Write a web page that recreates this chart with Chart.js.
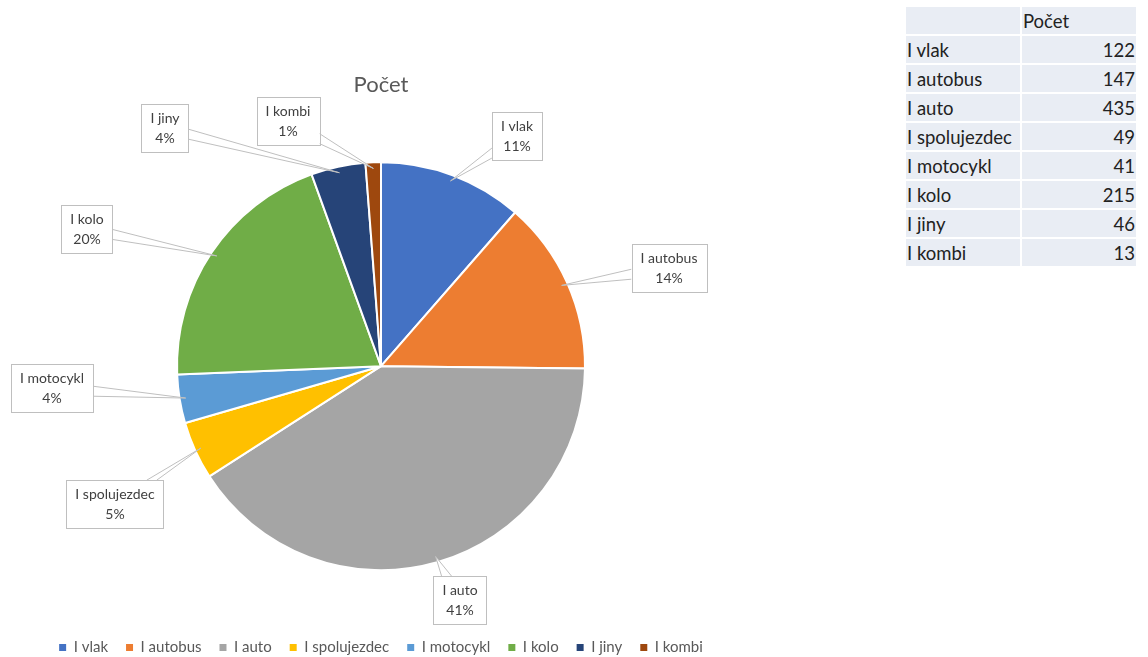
<!DOCTYPE html>
<html lang="cs">
<head>
  <meta charset="UTF-8">
  <title>Počet</title>
  <script src="https://cdn.jsdelivr.net/npm/chart.js"></script>
  <style>
    body { margin: 0; background: #fff; font-family: Lato, sans-serif; overflow: hidden; }
    #wrap { position: absolute; left: 0; top: 0; width: 762px; height: 667px; }
    table { position: absolute; left: 904px; top: 5px; border-collapse: collapse; font-size: 18.5px; color: #222; }
    td { background: #e9edf4; border: 2px solid #fff; height: 27px; padding: 0 1px; }
    td.n { text-align: right; }
  </style>
</head>
<body>
  <div id="wrap"><canvas id="graf"></canvas></div>
  <table id="tab"></table>

  <script>
    const kategorie = ['I vlak', 'I autobus', 'I auto', 'I spolujezdec', 'I motocykl', 'I kolo', 'I jiny', 'I kombi'];
    const pocet = [122, 147, 435, 49, 41, 215, 46, 13];
    const barvy = ['#4472C4', '#ED7D31', '#A5A5A5', '#FFC000', '#5B9BD5', '#70AD47', '#264478', '#9E480E'];

    // tabulka vpravo
    const tab = document.getElementById('tab');
    tab.innerHTML = '<tr><td style="width:112px"></td><td style="width:112px">Počet</td></tr>' +
      kategorie.map((k, i) => '<tr><td>' + k + '</td><td class="n">' + pocet[i] + '</td></tr>').join('');

    // umisteni popisku (posun stredu rameckem od stredu kolace)
    const posunPopisku = [[136, -230], [288, -98], [79, 234], [-266, 138], [-329, 22], [-294, -137], [-216, -238], [-93, -245]];

    const popisky = {
      id: 'popisky',
      afterDatasetsDraw(chart) {
        const ctx = chart.ctx;
        const meta = chart.getDatasetMeta(0);
        const total = pocet.reduce((a, b) => a + b, 0);
        ctx.save();
        ctx.font = '14px Lato';
        meta.data.forEach((arc, i) => {
          const mid = (arc.startAngle + arc.endAngle) / 2;
          const ax = arc.x + Math.cos(mid) * arc.outerRadius * 0.97;
          const ay = arc.y + Math.sin(mid) * arc.outerRadius * 0.97;
          const t1 = kategorie[i];
          const t2 = Math.round(pocet[i] / total * 100) + '%';
          const w = Math.max(ctx.measureText(t1).width, ctx.measureText(t2).width) + 18;
          const h = 48;
          const cx = arc.x + posunPopisku[i][0];
          const cy = arc.y + posunPopisku[i][1];
          const l = cx - w / 2, t = cy - h / 2, r = cx + w / 2, b = cy + h / 2;
          // bod na okraji ramecku smerem k vysece
          const dx = ax - cx, dy = ay - cy;
          let p1, p2;
          if (Math.abs(dx) * h > Math.abs(dy) * w) {
            const ex = dx > 0 ? r : l;
            let ey = cy + dy * (w / 2) / Math.abs(dx);
            ey = Math.min(Math.max(ey, t + 6), b - 6);
            p1 = [ex, ey - 5]; p2 = [ex, ey + 5];
          } else {
            const ey = dy > 0 ? b : t;
            let ex = cx + dx * (h / 2) / Math.abs(dy);
            ex = Math.min(Math.max(ex, l + 6), r - 6);
            p1 = [ex - 5, ey]; p2 = [ex + 5, ey];
          }
          ctx.beginPath();
          ctx.moveTo(p1[0], p1[1]);
          ctx.lineTo(ax, ay);
          ctx.lineTo(p2[0], p2[1]);
          ctx.fillStyle = '#fff';
          ctx.fill();
          ctx.strokeStyle = '#bfbfbf';
          ctx.lineWidth = 1;
          ctx.stroke();
          ctx.fillRect(l, t, w, h);
          ctx.strokeRect(Math.round(l) + 0.5, Math.round(t) + 0.5, Math.round(w), h);
          ctx.fillStyle = '#404040';
          ctx.textAlign = 'center';
          ctx.textBaseline = 'middle';
          ctx.fillText(t1, cx, cy - 10);
          ctx.fillText(t2, cx, cy + 10);
        });
        ctx.restore();
      }
    };

    new Chart(document.getElementById('graf'), {
      type: 'pie',
      data: {
        labels: kategorie,
        datasets: [{
          data: pocet,
          backgroundColor: barvy,
          borderColor: '#fff',
          borderWidth: 2
        }]
      },
      options: {
        responsive: true,
        maintainAspectRatio: false,
        animation: false,
        radius: 204,
        layout: { padding: { top: 66, bottom: 2 } },
        plugins: {
          title: {
            display: true,
            text: 'Počet',
            color: '#595959',
            font: { family: 'Lato', size: 22, weight: 'normal' },
            padding: { top: 6, bottom: 12 }
          },
          legend: {
            position: 'bottom',
            labels: {
              color: '#595959',
              font: { family: 'Lato', size: 15 },
              boxWidth: 7,
              boxHeight: 7,
              padding: 18,
              generateLabels(chart) {
                return Chart.overrides.pie.plugins.legend.labels.generateLabels(chart)
                  .map(l => Object.assign(l, { lineWidth: 0, strokeStyle: l.fillStyle }));
              }
            }
          },
          tooltip: { enabled: false }
        }
      },
      plugins: [popisky]
    });
  </script>
</body>
</html>
